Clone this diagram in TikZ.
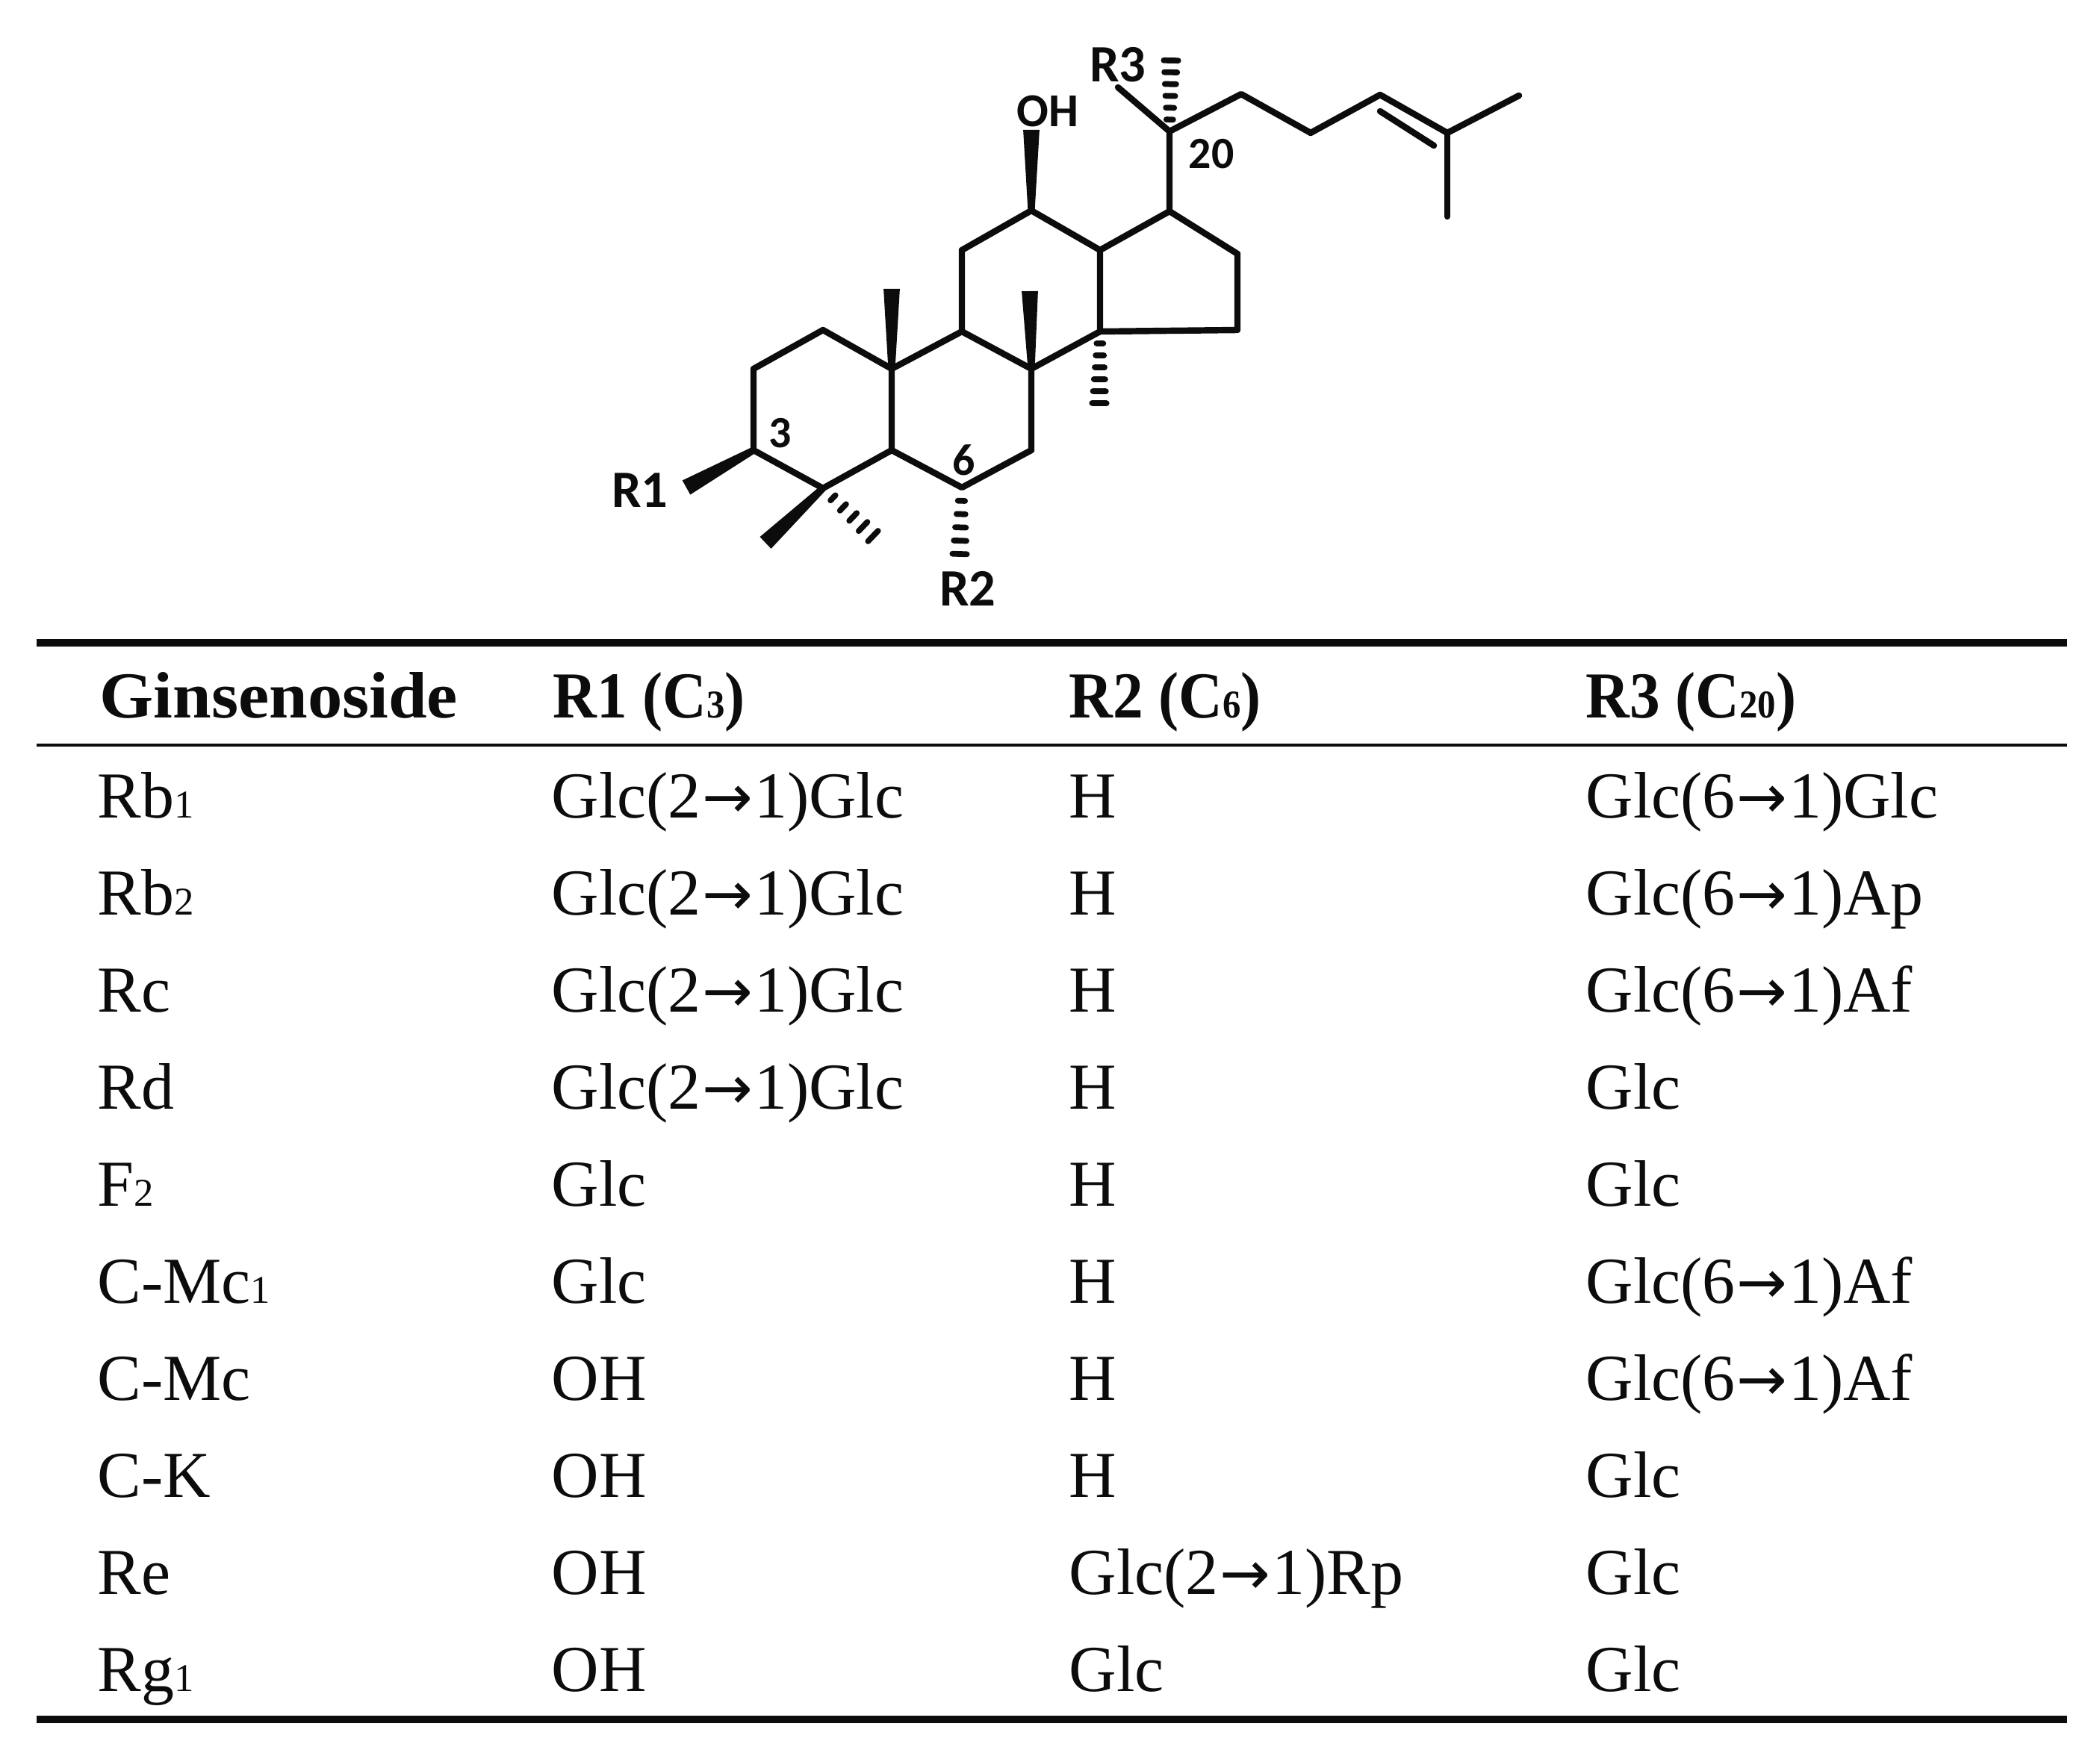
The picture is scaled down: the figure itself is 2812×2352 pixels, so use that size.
\documentclass[tikz,border=0pt]{standalone}
\usepackage{fontspec}
\usepackage{xcolor}
\usepackage{tikz}
\usetikzlibrary{calc}
\setmainfont{Liberation Serif}
\newfontfamily\labfont{Carlito}
\newfontfamily\arrfont{DejaVu Sans}
\definecolor{ink}{HTML}{0C0C0C}
\tikzset{
  bond/.style={draw=ink, line width=2.4pt, line join=round, line cap=round},
  hashline/.style={draw=ink, line width=2.2pt, line cap=round},
  lab/.style={text=ink, font=\labfont\bfseries\fontsize{20}{24}\selectfont, inner sep=0pt},
  num/.style={lab, font=\labfont\bfseries\fontsize{17}{20}\selectfont},
  cell/.style={text=ink, font=\fontsize{25}{30}\selectfont, anchor=base west, inner sep=0pt},
  headcell/.style={cell, font=\bfseries\fontsize{25}{30}\selectfont},
}
\newcommand{\sm}[1]{{\fontsize{15}{18}\selectfont #1}}
\newcommand{\arr}{\kern.5pt{\arrfont\fontsize{23}{24}\selectfont →}\kern.5pt}
\newcommand{\narrow}[1]{\scalebox{.925}[1]{#1}}
\newcommand{\wedgebond}[2]{%
  \fill[ink] ($(#1)!1.3pt!90:(#2)$) -- ($(#2)!3.1pt!-90:(#1)$) -- ($(#2)!3.1pt!90:(#1)$)
    -- ($(#1)!1.3pt!-90:(#2)$) -- cycle;}
\newcommand{\hashbond}[3]{%
  \foreach \k in {1,...,#3}{%
    \pgfmathsetmacro{\hw}{1+1.75*\k/#3}
    \coordinate (hm) at ($(#1)!\k/#3!(#2)$);
    \draw[hashline] ($(hm)!\hw pt!90:(#1)$) -- ($(hm)!\hw pt!-90:(#1)$);
  }}
\begin{document}
\begin{tikzpicture}[x=0.01cm,y=-0.01cm]
  \useasboundingbox (0,0) rectangle (2812,2352);
  % ring atoms
  \coordinate (c1) at (1102,442);
  \coordinate (c2) at (1009,494);
  \coordinate (c3) at (1009,603);
  \coordinate (c4) at (1102,654);
  \coordinate (c5) at (1194,603);
  \coordinate (c6) at (1288,653);
  \coordinate (c7) at (1381,603);
  \coordinate (c8) at (1381,494);
  \coordinate (c9) at (1288,444);
  \coordinate (c10) at (1194,494);
  \coordinate (c11) at (1288,335);
  \coordinate (c12) at (1381,282);
  \coordinate (c13) at (1473,335);
  \coordinate (c14) at (1473,444);
  \coordinate (c15) at (1657,442);
  \coordinate (c16) at (1657,340);
  \coordinate (c17) at (1566,283);
  \coordinate (c20) at (1566,176);
  % side chain
  \coordinate (c22) at (1662,126);
  \coordinate (c23) at (1755,178);
  \coordinate (c24) at (1848,127);
  \coordinate (c25) at (1938,178);
  \coordinate (c26) at (2034,128);
  \coordinate (c27) at (1938,290);
  \coordinate (d24) at (1848,149);
  \coordinate (d25) at (1920,195);
  % substituent ends
  \coordinate (oh) at (1381,174);
  \coordinate (m10) at (1194,387);
  \coordinate (m8) at (1379,390);
  \coordinate (m14) at (1472,540);
  \coordinate (r1end) at (919,653);
  \coordinate (m4a) at (1025,727);
  \coordinate (m4b) at (1169,718);
  \coordinate (r2end) at (1285,742);
  \coordinate (r3end) at (1497,117);
  \coordinate (m20) at (1568,81);

  \draw[bond] (c1)--(c2)--(c3)--(c4)--(c5)--(c10)--cycle;
  \draw[bond] (c5)--(c6)--(c7)--(c8)--(c9)--(c10);
  \draw[bond] (c9)--(c11)--(c12)--(c13)--(c14)--(c8);
  \draw[bond] (c13)--(c17)--(c16)--(c15)--(c14);
  \draw[bond] (c17)--(c20)--(c22)--(c23)--(c24)--(c25)--(c26);
  \draw[bond] (c25)--(c27);
  \draw[bond] (d24)--(d25);
  \draw[bond] (c20)--(r3end);

  \wedgebond{c12}{oh}
  \wedgebond{c10}{m10}
  \wedgebond{c8}{m8}
  \wedgebond{c3}{r1end}
  \wedgebond{c4}{m4a}
  \hashbond{c14}{m14}{6}
  \hashbond{c4}{m4b}{5}
  \hashbond{c6}{r2end}{5}
  \hashbond{c20}{m20}{6}

  \node[lab, font=\labfont\bfseries\fontsize{18}{20}\selectfont] (ohlab) at (1403,149) {OH};
  \node[lab] (r1lab) at (857,657) {R1};
  \node[lab] (r2lab) at (1296,788) {R2};
  \node[lab] (r3lab) at (1497,87) {R3};
  \node[num] (n3) at (1045,580) {3};
  \node[num] (n6) at (1291,616) {6};
  \node[num] (n20) at (1622,206) {20};

  % table rules
  \coordinate (tl) at (49,861);
  \coordinate (tr) at (2768,861);
  \coordinate (ml) at (49,998);
  \coordinate (mr) at (2768,998);
  \coordinate (bl) at (49,2303);
  \coordinate (br) at (2768,2303);
  \draw[draw=ink, line width=2.6pt] (tl)--(tr);
  \draw[draw=ink, line width=1.3pt] (ml)--(mr);
  \draw[draw=ink, line width=2.6pt] (bl)--(br);

  \node[headcell] (h0) at (133,961) {\scalebox{1.055}[1]{Ginsenoside}};
  \node[headcell] (h1) at (740,961) {\narrow{R1 (C\sm{3})}};
  \node[headcell] (h2) at (1431,961) {\narrow{R2 (C\sm{6})}};
  \node[headcell] (h3) at (2123,961) {\narrow{R3 (C\sm{20})}};

  \foreach \i/\na/\ra/\rb/\rc in {
    0/Rb\sm{1}/Glc(2\arr 1)Glc/H/Glc(6\arr 1)Glc,
    1/Rb\sm{2}/Glc(2\arr 1)Glc/H/Glc(6\arr 1)Ap,
    2/Rc/Glc(2\arr 1)Glc/H/Glc(6\arr 1)Af,
    3/Rd/Glc(2\arr 1)Glc/H/Glc,
    4/F\sm{2}/Glc/H/Glc,
    5/C-Mc\sm{1}/Glc/H/Glc(6\arr 1)Af,
    6/C-Mc/OH/H/Glc(6\arr 1)Af,
    7/C-K/OH/H/Glc,
    8/Re/OH/Glc(2\arr 1)Rp/Glc,
    9/Rg\sm{1}/OH/Glc/Glc}{
    \node[cell] (n\i) at (130,1095+130*\i) {\na};
    \node[cell] (a\i) at (738,1095+130*\i) {\ra};
    \node[cell] (b\i) at (1431,1095+130*\i) {\rb};
    \node[cell] (c\i x) at (2123,1095+130*\i) {\rc};
  }
\end{tikzpicture}
\end{document}
